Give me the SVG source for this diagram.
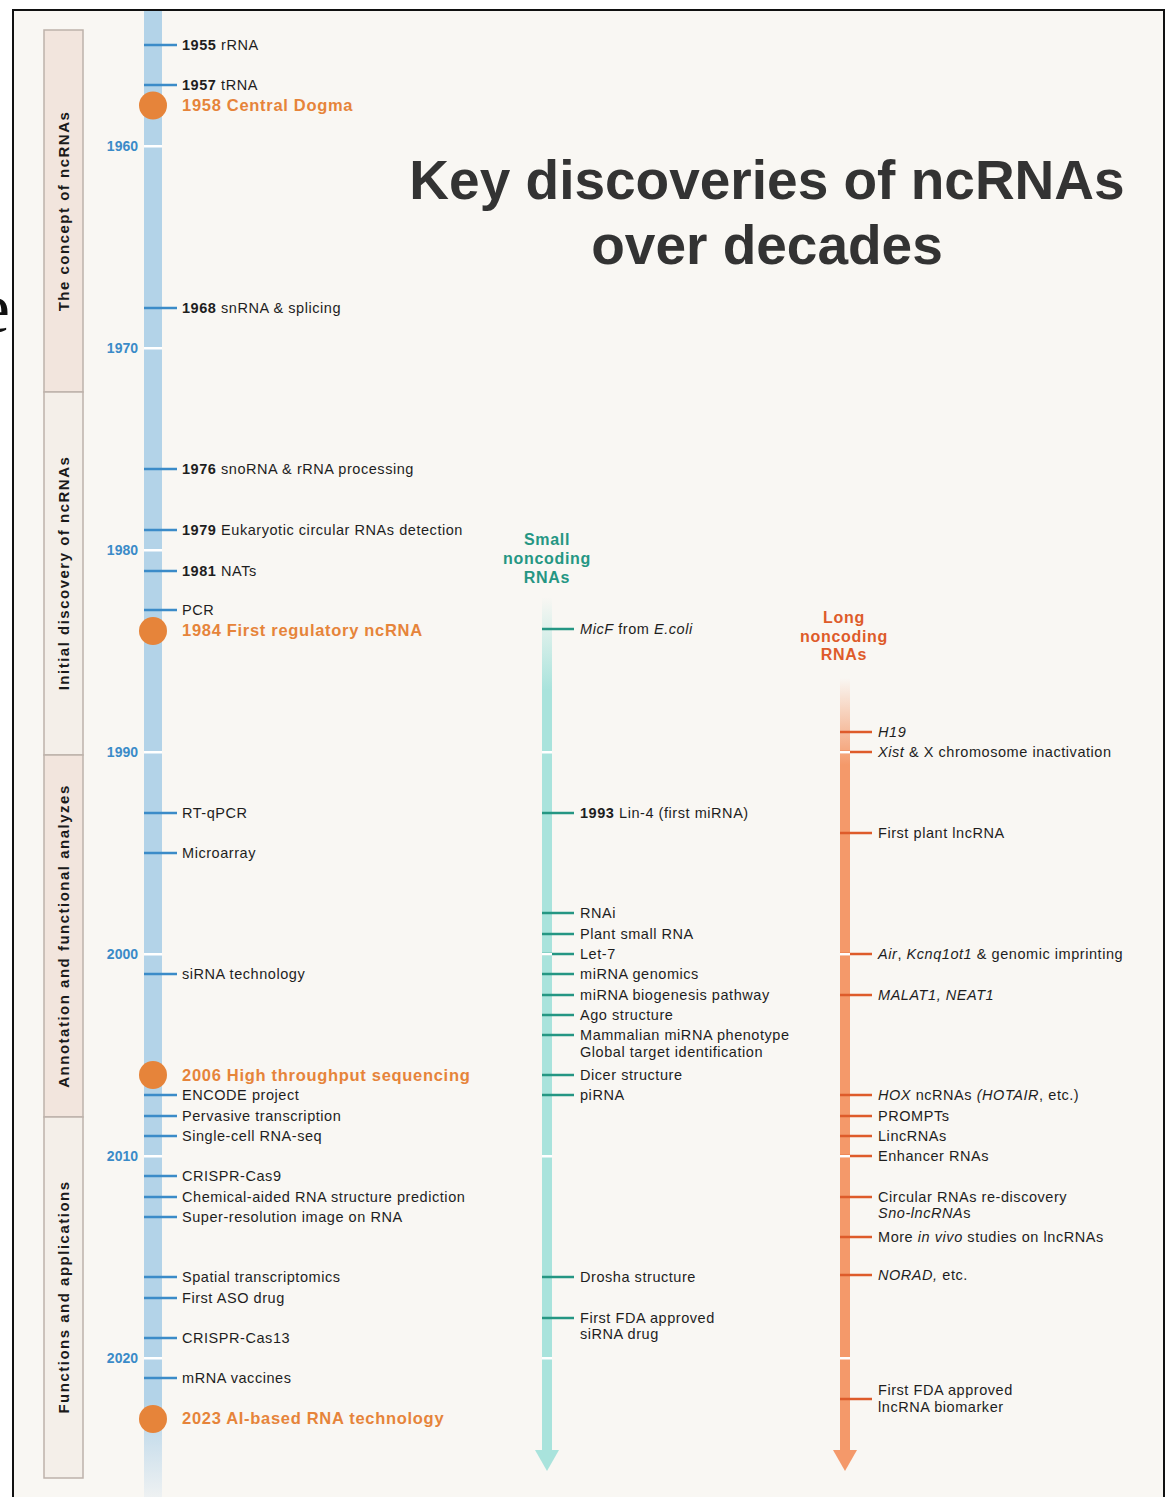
<svg xmlns="http://www.w3.org/2000/svg" width="1171" height="1497" viewBox="0 0 1171 1497">
  <defs>
    <style>
      .lbl { font-family: "Liberation Sans", Arial, sans-serif; font-size: 14.5px; fill: #1e1e1e; letter-spacing: 0.55px; }
      .b { font-weight: bold; }
      .i { font-style: italic; }
      .key { font-family: "Liberation Sans", Arial, sans-serif; font-size: 16.5px; font-weight: bold; fill: #e6843a; letter-spacing: 0.7px; }
      .yr { font-family: "Liberation Sans", Arial, sans-serif; font-size: 14px; font-weight: bold; fill: #3b8bc8; text-anchor: end; }
      .era { font-family: "Liberation Sans", Arial, sans-serif; font-size: 15px; font-weight: bold; fill: #1a1a1a; text-anchor: middle; letter-spacing: 1.5px; }
      .head { font-family: "Liberation Sans", Arial, sans-serif; font-size: 16px; font-weight: bold; text-anchor: middle; letter-spacing: 0.7px; }
      .title { font-family: "Liberation Sans", Arial, sans-serif; font-size: 55px; font-weight: bold; fill: #333333; text-anchor: middle; }
      .tb { stroke: #3b8bc8; stroke-width: 2.5; }
      .tt { stroke: #259683; stroke-width: 2.5; }
      .to { stroke: #de5b2a; stroke-width: 2.5; }
      .gap { fill: #ffffff; }
      .dot { fill: #e6843a; }
    </style>
    <linearGradient id="blueFade" gradientUnits="userSpaceOnUse" x1="0" y1="1400" x2="0" y2="1497">
      <stop offset="0" stop-color="#b3d3e8"/>
      <stop offset="1" stop-color="#eef1f2"/>
    </linearGradient>
    <linearGradient id="tealFade" gradientUnits="userSpaceOnUse" x1="0" y1="597" x2="0" y2="690">
      <stop offset="0" stop-color="#a9e3dc" stop-opacity="0"/>
      <stop offset="1" stop-color="#a9e3dc"/>
    </linearGradient>
    <linearGradient id="orangeFade" gradientUnits="userSpaceOnUse" x1="0" y1="678" x2="0" y2="765">
      <stop offset="0" stop-color="#f4996a" stop-opacity="0"/>
      <stop offset="1" stop-color="#f4996a"/>
    </linearGradient>
  </defs>

  <!-- page and frame -->
  <rect x="0" y="0" width="1171" height="1497" fill="#ffffff"/>
  <rect x="13" y="10" width="1151" height="1500" fill="#f9f7f3" stroke="#111111" stroke-width="2"/>
  <text x="-22" y="332" font-family="'Liberation Serif', serif" font-size="72" fill="#111111">e</text>

  <!-- era bands -->
  <g id="eras">
    <g id="era-concept">
      <rect x="44" y="30" width="39" height="362" fill="#f2e5dd" stroke="#bdb2ab" stroke-width="1.5"/>
      <text class="era" transform="translate(69,211) rotate(-90)">The concept of ncRNAs</text>
    </g>
    <g id="era-discovery">
      <rect x="44" y="392" width="39" height="363" fill="#f4efe9" stroke="#bdb2ab" stroke-width="1.5"/>
      <text class="era" transform="translate(69,573) rotate(-90)">Initial discovery of ncRNAs</text>
    </g>
    <g id="era-annotation">
      <rect x="44" y="755" width="39" height="362" fill="#f2e5dd" stroke="#bdb2ab" stroke-width="1.5"/>
      <text class="era" transform="translate(69,936) rotate(-90)">Annotation and functional analyzes</text>
    </g>
    <g id="era-functions">
      <rect x="44" y="1117" width="39" height="361" fill="#f4efe9" stroke="#bdb2ab" stroke-width="1.5"/>
      <text class="era" transform="translate(69,1297) rotate(-90)">Functions and applications</text>
    </g>
  </g>

  <!-- title -->
  <g id="title">
    <text class="title" x="767" y="199">Key discoveries of ncRNAs</text>
    <text class="title" x="767" y="264">over decades</text>
  </g>

  <!-- timeline bars and arrows -->
  <g id="connectors">
    <rect x="144" y="11" width="18" height="1486" fill="#b3d3e8"/>
    <rect x="144" y="1400" width="18" height="97" fill="url(#blueFade)"/>
    <rect x="542" y="597" width="10" height="855" fill="url(#tealFade)"/>
    <polygon points="535,1450 559,1450 547,1471" fill="#a9e3dc"/>
    <rect x="840" y="678" width="10" height="774" fill="url(#orangeFade)"/>
    <polygon points="833,1450 857,1450 845,1471" fill="#f4996a"/>

    <!-- general timeline ticks -->
    <g class="tb">
      <line x1="144" y1="45" x2="177" y2="45"/>
      <line x1="144" y1="85" x2="177" y2="85"/>
      <line x1="144" y1="308" x2="177" y2="308"/>
      <line x1="144" y1="469" x2="177" y2="469"/>
      <line x1="144" y1="530" x2="177" y2="530"/>
      <line x1="144" y1="571" x2="177" y2="571"/>
      <line x1="144" y1="610" x2="177" y2="610"/>
      <line x1="144" y1="813" x2="177" y2="813"/>
      <line x1="144" y1="853" x2="177" y2="853"/>
      <line x1="144" y1="974" x2="177" y2="974"/>
      <line x1="144" y1="1095" x2="177" y2="1095"/>
      <line x1="144" y1="1116" x2="177" y2="1116"/>
      <line x1="144" y1="1136" x2="177" y2="1136"/>
      <line x1="144" y1="1176" x2="177" y2="1176"/>
      <line x1="144" y1="1197" x2="177" y2="1197"/>
      <line x1="144" y1="1217" x2="177" y2="1217"/>
      <line x1="144" y1="1277" x2="177" y2="1277"/>
      <line x1="144" y1="1298" x2="177" y2="1298"/>
      <line x1="144" y1="1338" x2="177" y2="1338"/>
      <line x1="144" y1="1378" x2="177" y2="1378"/>
    </g>

    <!-- small ncRNA ticks -->
    <g class="tt">
      <line x1="542" y1="629" x2="574" y2="629"/>
      <line x1="542" y1="813" x2="574" y2="813"/>
      <line x1="542" y1="913" x2="574" y2="913"/>
      <line x1="542" y1="934" x2="574" y2="934"/>
      <line x1="542" y1="954" x2="574" y2="954"/>
      <line x1="542" y1="974" x2="574" y2="974"/>
      <line x1="542" y1="995" x2="574" y2="995"/>
      <line x1="542" y1="1015" x2="574" y2="1015"/>
      <line x1="542" y1="1035" x2="574" y2="1035"/>
      <line x1="542" y1="1075" x2="574" y2="1075"/>
      <line x1="542" y1="1095" x2="574" y2="1095"/>
      <line x1="542" y1="1277" x2="574" y2="1277"/>
      <line x1="542" y1="1318" x2="574" y2="1318"/>
    </g>

    <!-- long ncRNA ticks -->
    <g class="to">
      <line x1="840" y1="732" x2="872" y2="732"/>
      <line x1="840" y1="752" x2="872" y2="752"/>
      <line x1="840" y1="833" x2="872" y2="833"/>
      <line x1="840" y1="954" x2="872" y2="954"/>
      <line x1="840" y1="995" x2="872" y2="995"/>
      <line x1="840" y1="1095" x2="872" y2="1095"/>
      <line x1="840" y1="1116" x2="872" y2="1116"/>
      <line x1="840" y1="1136" x2="872" y2="1136"/>
      <line x1="840" y1="1156" x2="872" y2="1156"/>
      <line x1="840" y1="1197" x2="872" y2="1197"/>
      <line x1="840" y1="1237" x2="872" y2="1237"/>
      <line x1="840" y1="1275" x2="872" y2="1275"/>
      <line x1="840" y1="1399" x2="872" y2="1399"/>
    </g>

    <!-- decade gaps -->
    <g class="gap">
      <rect x="144" y="145" width="18" height="2.5"/>
      <rect x="144" y="347" width="18" height="2.5"/>
      <rect x="144" y="549" width="18" height="2.5"/>
      <rect x="144" y="751" width="18" height="2.5"/>
      <rect x="144" y="953" width="18" height="2.5"/>
      <rect x="144" y="1155" width="18" height="2.5"/>
      <rect x="144" y="1357" width="18" height="2.5"/>
      <rect x="542" y="751" width="10" height="2.5"/>
      <rect x="542" y="953" width="10" height="2.5"/>
      <rect x="542" y="1155" width="10" height="2.5"/>
      <rect x="542" y="1357" width="10" height="2.5"/>
      <rect x="840" y="751" width="10" height="2.5"/>
      <rect x="840" y="953" width="10" height="2.5"/>
      <rect x="840" y="1155" width="10" height="2.5"/>
      <rect x="840" y="1357" width="10" height="2.5"/>
    </g>
  </g>

  <!-- decade labels -->
  <g id="years">
    <text class="yr" x="138" y="151">1960</text>
    <text class="yr" x="138" y="353">1970</text>
    <text class="yr" x="138" y="555">1980</text>
    <text class="yr" x="138" y="757">1990</text>
    <text class="yr" x="138" y="959">2000</text>
    <text class="yr" x="138" y="1161">2010</text>
    <text class="yr" x="138" y="1363">2020</text>
  </g>

  <!-- landmark events -->
  <g id="key-1958"><circle class="dot" cx="153" cy="105.5" r="14"/><text class="key" x="182" y="111">1958 Central Dogma</text></g>
  <g id="key-1984"><circle class="dot" cx="153" cy="631" r="14"/><text class="key" x="182" y="636">1984 First regulatory ncRNA</text></g>
  <g id="key-2006"><circle class="dot" cx="153" cy="1075" r="14"/><text class="key" x="182" y="1081">2006 High throughput sequencing</text></g>
  <g id="key-2023"><circle class="dot" cx="153" cy="1419" r="14"/><text class="key" x="182" y="1424">2023 AI-based RNA technology</text></g>

  <!-- general events -->
  <g id="general-events">
    <text class="lbl" x="182" y="50"><tspan class="b">1955</tspan> rRNA</text>
    <text class="lbl" x="182" y="90"><tspan class="b">1957</tspan> tRNA</text>
    <text class="lbl" x="182" y="313"><tspan class="b">1968</tspan> snRNA &amp; splicing</text>
    <text class="lbl" x="182" y="474"><tspan class="b">1976</tspan> snoRNA &amp; rRNA processing</text>
    <text class="lbl" x="182" y="535"><tspan class="b">1979</tspan> Eukaryotic circular RNAs detection</text>
    <text class="lbl" x="182" y="576"><tspan class="b">1981</tspan> NATs</text>
    <text class="lbl" x="182" y="615">PCR</text>
    <text class="lbl" x="182" y="818">RT-qPCR</text>
    <text class="lbl" x="182" y="858">Microarray</text>
    <text class="lbl" x="182" y="979">siRNA technology</text>
    <text class="lbl" x="182" y="1100">ENCODE project</text>
    <text class="lbl" x="182" y="1121">Pervasive transcription</text>
    <text class="lbl" x="182" y="1141">Single-cell RNA-seq</text>
    <text class="lbl" x="182" y="1181">CRISPR-Cas9</text>
    <text class="lbl" x="182" y="1202">Chemical-aided RNA structure prediction</text>
    <text class="lbl" x="182" y="1222">Super-resolution image on RNA</text>
    <text class="lbl" x="182" y="1282">Spatial transcriptomics</text>
    <text class="lbl" x="182" y="1303">First ASO drug</text>
    <text class="lbl" x="182" y="1343">CRISPR-Cas13</text>
    <text class="lbl" x="182" y="1383">mRNA vaccines</text>
  </g>

  <!-- small noncoding RNAs -->
  <g id="small-ncrnas">
    <text class="head" fill="#259683" x="547" y="545">Small</text>
    <text class="head" fill="#259683" x="547" y="564">noncoding</text>
    <text class="head" fill="#259683" x="547" y="583">RNAs</text>
    <text class="lbl" x="580" y="634"><tspan class="i">MicF</tspan> from <tspan class="i">E.coli</tspan></text>
    <text class="lbl" x="580" y="818"><tspan class="b">1993</tspan> Lin-4 (first miRNA)</text>
    <text class="lbl" x="580" y="918">RNAi</text>
    <text class="lbl" x="580" y="939">Plant small RNA</text>
    <text class="lbl" x="580" y="959">Let-7</text>
    <text class="lbl" x="580" y="979">miRNA genomics</text>
    <text class="lbl" x="580" y="1000">miRNA biogenesis pathway</text>
    <text class="lbl" x="580" y="1020">Ago structure</text>
    <text class="lbl" x="580" y="1040">Mammalian miRNA phenotype</text>
    <text class="lbl" x="580" y="1057">Global target identification</text>
    <text class="lbl" x="580" y="1080">Dicer structure</text>
    <text class="lbl" x="580" y="1100">piRNA</text>
    <text class="lbl" x="580" y="1282">Drosha structure</text>
    <text class="lbl" x="580" y="1323">First FDA approved</text>
    <text class="lbl" x="580" y="1339">siRNA drug</text>
  </g>

  <!-- long noncoding RNAs -->
  <g id="long-ncrnas">
    <text class="head" fill="#de5b2a" x="844" y="623">Long</text>
    <text class="head" fill="#de5b2a" x="844" y="642">noncoding</text>
    <text class="head" fill="#de5b2a" x="844" y="660">RNAs</text>
    <text class="lbl i" x="878" y="737">H19</text>
    <text class="lbl" x="878" y="757"><tspan class="i">Xist</tspan> &amp; X chromosome inactivation</text>
    <text class="lbl" x="878" y="838">First plant lncRNA</text>
    <text class="lbl" x="878" y="959"><tspan class="i">Air</tspan>, <tspan class="i">Kcnq1ot1</tspan> &amp; genomic imprinting</text>
    <text class="lbl i" x="878" y="1000">MALAT1, NEAT1</text>
    <text class="lbl" x="878" y="1100"><tspan class="i">HOX</tspan> ncRNAs <tspan class="i">(HOTAIR</tspan>, etc.)</text>
    <text class="lbl" x="878" y="1121">PROMPTs</text>
    <text class="lbl" x="878" y="1141">LincRNAs</text>
    <text class="lbl" x="878" y="1161">Enhancer RNAs</text>
    <text class="lbl" x="878" y="1202">Circular RNAs re-discovery</text>
    <text class="lbl" x="878" y="1218"><tspan class="i">Sno-lncRNA</tspan>s</text>
    <text class="lbl" x="878" y="1242">More <tspan class="i">in vivo</tspan> studies on lncRNAs</text>
    <text class="lbl" x="878" y="1280"><tspan class="i">NORAD,</tspan> etc.</text>
    <text class="lbl" x="878" y="1395">First FDA approved</text>
    <text class="lbl" x="878" y="1412">lncRNA biomarker</text>
  </g>
</svg>
